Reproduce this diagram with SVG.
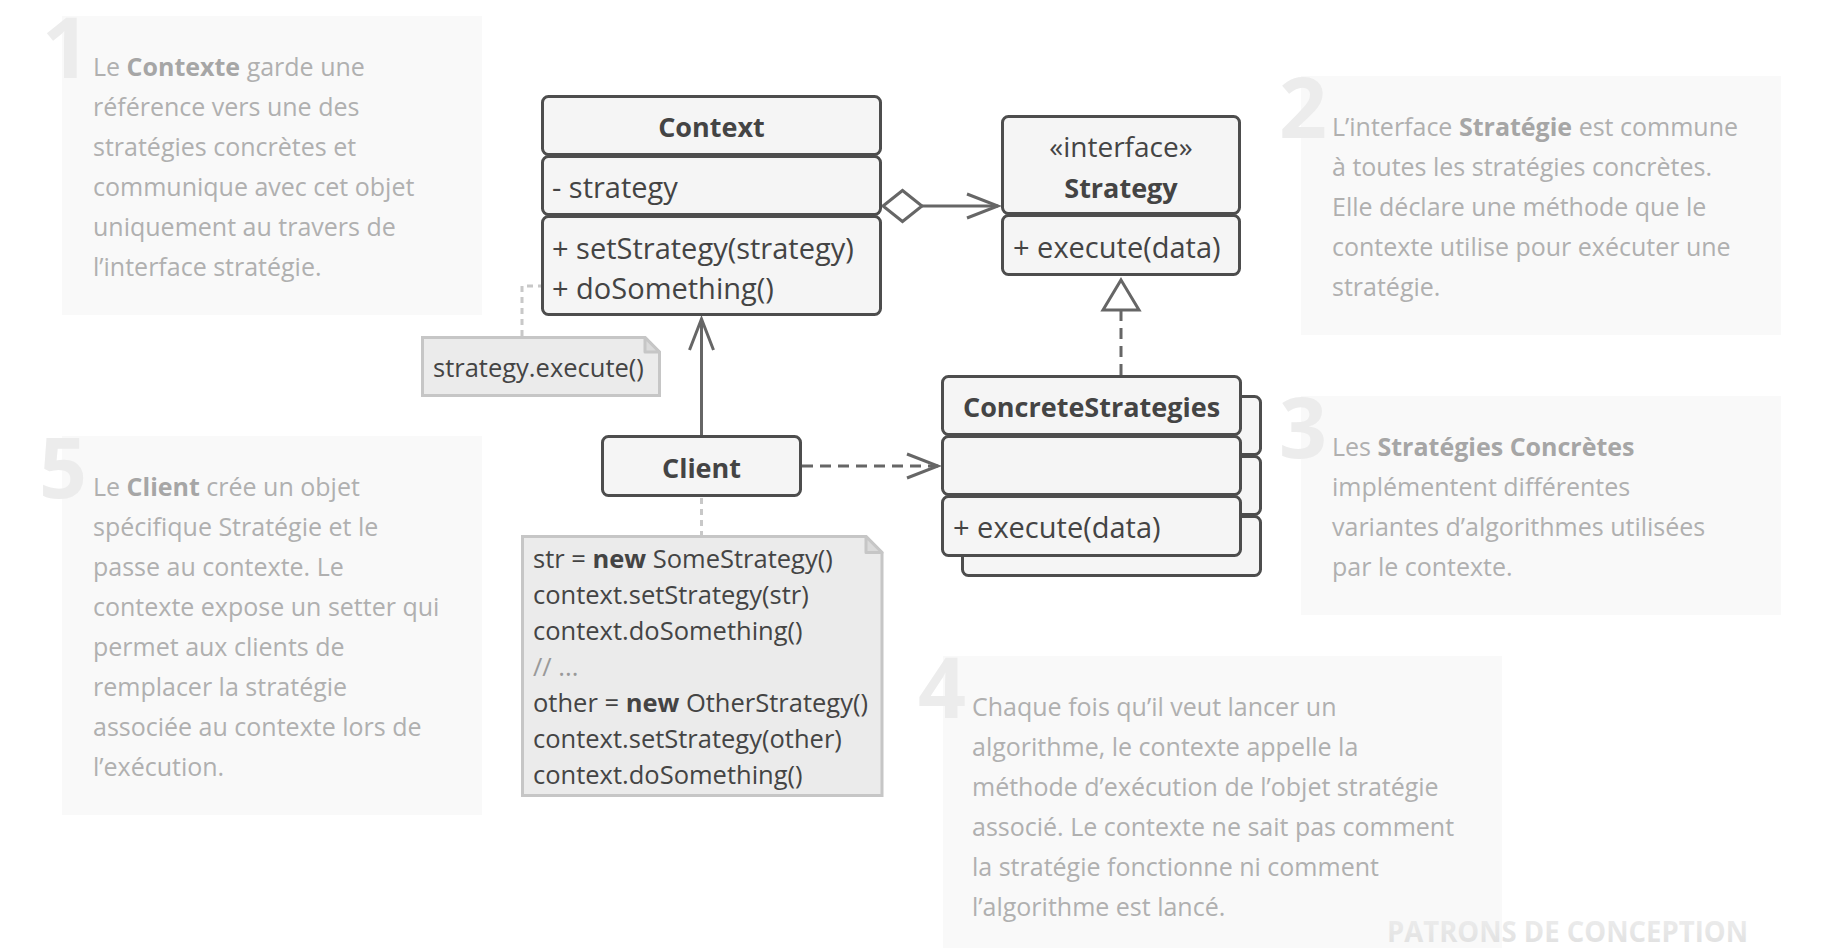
<svg xmlns="http://www.w3.org/2000/svg" width="1834" height="948" viewBox="0 0 1834 948">
<style>
.desc-bg{fill:#f9f9f9}
.num{font-family:"Open Sans","Noto Sans",sans-serif;font-weight:700;font-size:84px;fill:#ececec;text-anchor:end}
.desc{font-family:"Open Sans","Noto Sans",sans-serif;font-size:25px;fill:#b0b0b0}
.desc .b{font-weight:700;fill:#a6a6a6}
.box{fill:#f5f5f5;stroke:#4d4d4d;stroke-width:3}
.title{font-family:"Open Sans","Noto Sans",sans-serif;font-weight:700;font-size:27px;fill:#444;text-anchor:middle}
.mem{font-family:"Open Sans","Noto Sans",sans-serif;font-size:29px;fill:#444}
.stereo{font-family:"Open Sans","Noto Sans",sans-serif;font-size:28px;fill:#444;text-anchor:middle}
.note{fill:#ebebeb;stroke:#c6c6c6;stroke-width:3}
.fold{fill:#dadada;stroke:#c6c6c6;stroke-width:3;stroke-linejoin:round}
.code{font-family:"Open Sans","Noto Sans",sans-serif;font-size:25.5px;fill:#444}
.code .b{font-weight:700}
.code .c{fill:#999}
.line{fill:none;stroke:#666;stroke-width:3}
.dash{stroke-dasharray:11 7}
.dot{fill:none;stroke:#c8c8c8;stroke-width:3;stroke-dasharray:6 5}
.wm{font-family:"Open Sans","Noto Sans",sans-serif;font-weight:700;font-size:29px}
</style>
<defs>
<marker id="openArrow" markerUnits="userSpaceOnUse" viewBox="-36 -16 40 32" refX="0" refY="0" markerWidth="40" markerHeight="32" orient="auto">
<path d="M-31,-12 L0,0 L-31,12" fill="none" stroke="#666" stroke-width="3" stroke-dasharray="none"/>
</marker>
<linearGradient id="wmg" x1="0" y1="0" x2="0" y2="1">
<stop offset="0" stop-color="#f0f0f0"/>
<stop offset="1" stop-color="#dedede"/>
</linearGradient>
</defs>
<rect width="1834" height="948" fill="#ffffff"/>

<g id="desc1">
<rect class="desc-bg" x="62" y="16" width="420" height="299"/>
<text class="num" x="90" y="78">1</text>
<text class="desc" x="93" y="76">Le <tspan class="b">Contexte</tspan> garde une</text>
<text class="desc" x="93" y="116">référence vers une des</text>
<text class="desc" x="93" y="156">stratégies concrètes et</text>
<text class="desc" x="93" y="196">communique avec cet objet</text>
<text class="desc" x="93" y="236">uniquement au travers de</text>
<text class="desc" x="93" y="276">l’interface stratégie.</text>
</g>

<g id="desc2">
<rect class="desc-bg" x="1301" y="76" width="480" height="259"/>
<text class="num" x="1327" y="138">2</text>
<text class="desc" x="1332" y="136">L’interface <tspan class="b">Stratégie</tspan> est commune</text>
<text class="desc" x="1332" y="176">à toutes les stratégies concrètes.</text>
<text class="desc" x="1332" y="216">Elle déclare une méthode que le</text>
<text class="desc" x="1332" y="256">contexte utilise pour exécuter une</text>
<text class="desc" x="1332" y="296">stratégie.</text>
</g>

<g id="desc3">
<rect class="desc-bg" x="1301" y="396" width="480" height="219"/>
<text class="num" x="1327" y="458">3</text>
<text class="desc" x="1332" y="456">Les <tspan class="b">Stratégies Concrètes</tspan></text>
<text class="desc" x="1332" y="496">implémentent différentes</text>
<text class="desc" x="1332" y="536">variantes d’algorithmes utilisées</text>
<text class="desc" x="1332" y="576">par le contexte.</text>
</g>

<g id="desc4">
<rect class="desc-bg" x="943" y="656" width="559" height="292"/>
<text class="num" x="966" y="718">4</text>
<text class="desc" x="972" y="716">Chaque fois qu’il veut lancer un</text>
<text class="desc" x="972" y="756">algorithme, le contexte appelle la</text>
<text class="desc" x="972" y="796">méthode d’exécution de l’objet stratégie</text>
<text class="desc" x="972" y="836">associé. Le contexte ne sait pas comment</text>
<text class="desc" x="972" y="876">la stratégie fonctionne ni comment</text>
<text class="desc" x="972" y="916">l’algorithme est lancé.</text>
</g>

<g id="desc5">
<rect class="desc-bg" x="62" y="436" width="420" height="379"/>
<text class="num" x="87" y="498">5</text>
<text class="desc" x="93" y="496">Le <tspan class="b">Client</tspan> crée un objet</text>
<text class="desc" x="93" y="536">spécifique Stratégie et le</text>
<text class="desc" x="93" y="576">passe au contexte. Le</text>
<text class="desc" x="93" y="616">contexte expose un setter qui</text>
<text class="desc" x="93" y="656">permet aux clients de</text>
<text class="desc" x="93" y="696">remplacer la stratégie</text>
<text class="desc" x="93" y="736">associée au contexte lors de</text>
<text class="desc" x="93" y="776">l’exécution.</text>
</g>

<g id="watermark">
<text class="wm" x="1387" y="942" textLength="361" lengthAdjust="spacingAndGlyphs" fill="url(#wmg)">PATRONS DE CONCEPTION</text>
</g>

<g id="connectors">
<path class="dot" d="M522,336 V286 H541"/>
<path class="dot" d="M701.5,498 V535"/>
<polygon points="883,206 902.5,190.5 922,206 902.5,221.5" fill="#ffffff" stroke="#666" stroke-width="3"/>
<path class="line" d="M922,206 H998" marker-end="url(#openArrow)"/>
<path class="line" d="M701.5,435 V319" marker-end="url(#openArrow)"/>
<path class="line dash" d="M802,466 H938" marker-end="url(#openArrow)"/>
<path class="line dash" d="M1121,375 V310"/>
<polygon points="1121,280 1139,310 1103,310" fill="#ffffff" stroke="#666" stroke-width="3" stroke-linejoin="miter"/>
</g>

<g id="context">
<rect class="box" x="542.5" y="96.5" width="338" height="58" rx="6"/>
<rect class="box" x="542.5" y="156.5" width="338" height="58" rx="6"/>
<rect class="box" x="542.5" y="216.5" width="338" height="98" rx="6"/>
<text class="title" x="711.5" y="137">Context</text>
<text class="mem" x="552" y="197.5">- strategy</text>
<text class="mem" x="552" y="258.5">+ setStrategy(strategy)</text>
<text class="mem" x="552" y="298.5">+ doSomething()</text>
</g>

<g id="strategy">
<rect class="box" x="1002.5" y="116.5" width="237" height="97" rx="6"/>
<rect class="box" x="1002.5" y="215.5" width="237" height="59" rx="6"/>
<text class="stereo" x="1121" y="157">«interface»</text>
<text class="title" x="1121" y="198">Strategy</text>
<text class="mem" x="1013" y="257.5">+ execute(data)</text>
</g>

<g id="concrete-strategies">
<rect class="box" x="962.5" y="396.5" width="298" height="58" rx="6"/>
<rect class="box" x="962.5" y="456.5" width="298" height="58" rx="6"/>
<rect class="box" x="962.5" y="516.5" width="298" height="59" rx="6"/>
<rect class="box" x="942.5" y="376.5" width="298" height="58" rx="6"/>
<rect class="box" x="942.5" y="436.5" width="298" height="58" rx="6"/>
<rect class="box" x="942.5" y="496.5" width="298" height="59" rx="6"/>
<text class="title" x="1091.5" y="417">ConcreteStrategies</text>
<text class="mem" x="953" y="538">+ execute(data)</text>
</g>

<g id="client">
<rect class="box" x="602.5" y="436.5" width="198" height="59" rx="6"/>
<text class="title" x="701.5" y="478">Client</text>
</g>

<g id="note-execute">
<path class="note" d="M422.5,337.5 H645 L659.5,352 V395.5 H422.5 Z"/>
<path class="fold" d="M645,337.5 V352 H659.5 Z"/>
<text class="code" x="433" y="377">strategy.execute()</text>
</g>

<g id="note-client">
<path class="note" d="M522.5,536.5 H866 L882,552.5 V795.5 H522.5 Z"/>
<path class="fold" d="M866,536.5 V552.5 H882 Z"/>
<text class="code" x="533" y="568">str = <tspan class="b">new</tspan> SomeStrategy()</text>
<text class="code" x="533" y="604">context.setStrategy(str)</text>
<text class="code" x="533" y="640">context.doSomething()</text>
<text class="code" x="533" y="676"><tspan class="c">// ...</tspan></text>
<text class="code" x="533" y="712">other = <tspan class="b">new</tspan> OtherStrategy()</text>
<text class="code" x="533" y="748">context.setStrategy(other)</text>
<text class="code" x="533" y="784">context.doSomething()</text>
</g>
</svg>
